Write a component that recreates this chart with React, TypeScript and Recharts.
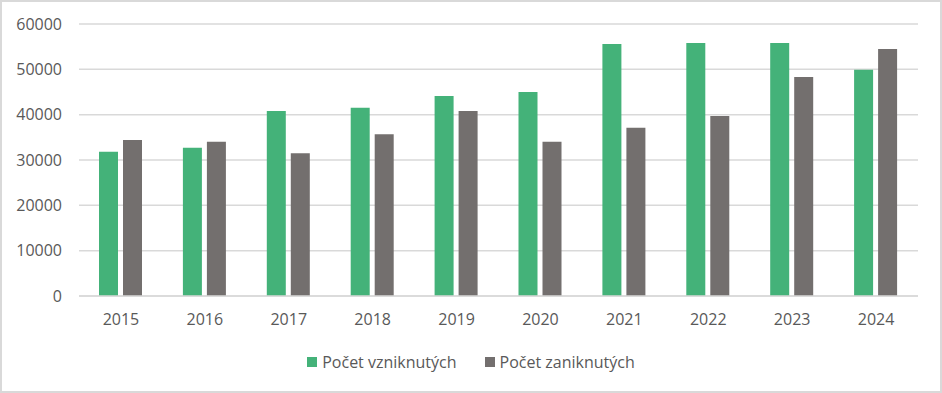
import React from "react"
import { Bar, BarChart, CartesianGrid, XAxis, YAxis } from "recharts"

const years = ["2015", "2016", "2017", "2018", "2019", "2020", "2021", "2022", "2023", "2024"]
const vzniknute = [31800, 32700, 40800, 41500, 44100, 45000, 55600, 55800, 55800, 49900]
const zaniknute = [34400, 34000, 31500, 35700, 40800, 34000, 37100, 39700, 48300, 54500]
const yTicks = [0, 10000, 20000, 30000, 40000, 50000, 60000]

const GREEN = "#44b279"
const GREY = "#736f6e"
const TEXT = "#595959"
const FONT = "'Open Sans', 'Noto Sans', sans-serif"

const data = years.map((year, i) => ({
  year,
  vzniknute: vzniknute[i],
  zaniknute: zaniknute[i],
}))

const legendItems = [
  { label: "Počet vzniknutých", color: GREEN },
  { label: "Počet zaniknutých", color: GREY },
]

// legend drawn as plain html under the chart, Excel-style
const ChartLegend = () => (
  <div
    style={{
      position: "absolute",
      top: 350,
      left: 0,
      width: 942,
      display: "flex",
      justifyContent: "center",
      gap: 28,
      fontFamily: FONT,
      fontSize: 16,
      lineHeight: "24px",
      color: TEXT,
    }}
  >
    {legendItems.map((item) => (
      <div key={item.label} style={{ display: "flex", alignItems: "center" }}>
        <span style={{ display: "inline-block", width: 10, height: 10, background: item.color, marginRight: 5 }} />
        <span>{item.label}</span>
      </div>
    ))}
  </div>
)

export default function App() {
  return (
    <div
      style={{
        position: "fixed",
        top: 0,
        left: 0,
        width: 942,
        height: 393,
        boxSizing: "border-box",
        border: "2px solid #d9d9d9",
        background: "#fff",
      }}
    >
      <div style={{ position: "absolute", top: -2, left: -2 }}>
        <BarChart
          width={942}
          height={393}
          data={data}
          margin={{ top: 24, right: 24, bottom: 67, left: 0 }}
          barCategoryGap="49%"
          barGap={5}
        >
          <CartesianGrid vertical={false} stroke="#d9d9d9" strokeWidth={1.5} />
          <XAxis
            dataKey="year"
            height={30}
            axisLine={{ stroke: "#d9d9d9", strokeWidth: 1.5 }}
            tickLine={false}
            tickSize={0}
            tickMargin={18}
            tick={{ fill: TEXT, fontSize: 16, fontFamily: FONT }}
          />
          <YAxis
            width={79}
            domain={[0, 60000]}
            ticks={yTicks}
            axisLine={false}
            tickLine={false}
            tickSize={0}
            tickMargin={17}
            tick={{ fill: TEXT, fontSize: 16, fontFamily: FONT }}
          />
          <Bar dataKey="vzniknute" name="Počet vzniknutých" fill={GREEN} barSize={19} isAnimationActive={false} />
          <Bar dataKey="zaniknute" name="Počet zaniknutých" fill={GREY} barSize={19} isAnimationActive={false} />
        </BarChart>
        <ChartLegend />
      </div>
    </div>
  )
}
